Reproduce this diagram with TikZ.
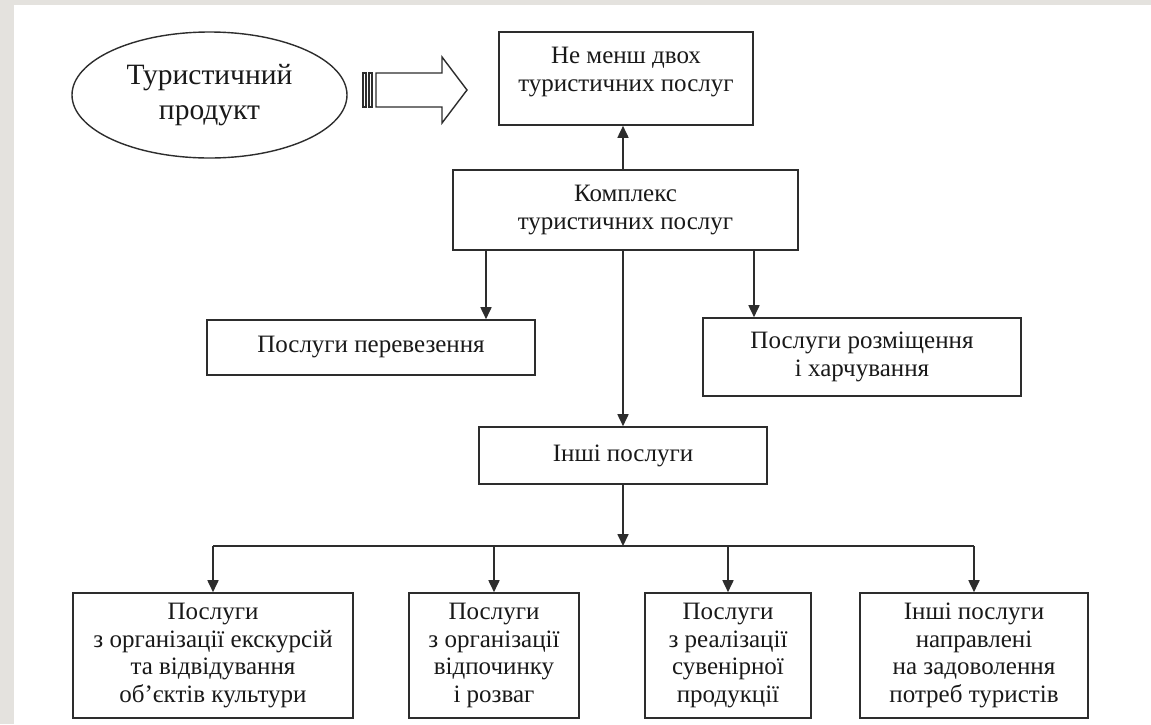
\documentclass[tikz,border=0pt]{standalone}
\usepackage{fontspec}
\setmainfont{Liberation Serif}
\usetikzlibrary{shapes.geometric,arrows.meta}
\definecolor{bggray}{RGB}{228,226,222}
\definecolor{ln}{RGB}{45,45,45}
\definecolor{tx}{RGB}{25,25,25}
\tikzset{
  box/.style={draw=ln, line width=1.6pt, fill=white, inner sep=0pt, align=center, text=tx,
              font=\fontsize{25}{27.5}\selectfont},
  arr/.style={draw=ln, line width=1.7pt, -{Triangle[width=11pt,length=12pt]}},
  ln/.style={draw=ln, line width=1.7pt},
}
\begin{document}
\begin{tikzpicture}[x=1pt,y=-1pt]
\useasboundingbox (0,0) rectangle (1151,724);
\fill[bggray] (0,0) rectangle (1151,724);
\fill[white] (14,5) rectangle (1151,724);

% ellipse
\node[ellipse, draw=ln, line width=1.4pt, minimum width=275pt, minimum height=126pt, inner sep=0pt,
      align=center, text=tx, font=\fontsize{29.5}{35}\selectfont] (ell) at (209.5,95) {Туристичний\\продукт};

% striped block arrow
\draw[ln, line width=1.4pt] (363,73) rectangle (366,107);
\draw[ln, line width=1.4pt] (369,73) rectangle (372,107);
\draw[ln, line width=1.4pt, line join=miter] (376,73) -- (442,73) -- (442,57) -- (467,90) -- (442,123) -- (442,107) -- (376,107) -- cycle;

% boxes
\node[box, minimum width=254pt, minimum height=93pt, text depth=18pt] (b1) at (626,78.5) {Не менш двох\\туристичних послуг};
\node[box, minimum width=345pt, minimum height=80pt] (kom) at (625.5,210) {Комплекс\\туристичних послуг};
\node[box, minimum width=328pt, minimum height=55pt] (per) at (371,347.5) {Послуги перевезення};
\node[box, minimum width=318pt, minimum height=78pt] (roz) at (862,357) {Послуги розміщення\\і харчування};
\node[box, minimum width=288pt, minimum height=57pt] (inshi) at (623,455.5) {Інші послуги};

\node[box, minimum width=280pt, minimum height=125pt] (A) at (213,655.5) {Послуги\\з організації екскурсій\\та відвідування\\об’єктів культури};
\node[box, minimum width=170pt, minimum height=125pt] (B) at (494,655.5) {Послуги\\з організації\\відпочинку\\і розваг};
\node[box, minimum width=166pt, minimum height=125pt] (C) at (728,655.5) {Послуги\\з реалізації\\сувенірної\\продукції};
\node[box, minimum width=228pt, minimum height=125pt] (D) at (974,655.5) {Інші послуги\\направлені\\на задоволення\\потреб туристів};

% helper coordinates
\coordinate (xup) at (623,0);
\coordinate (xper) at (486,0);
\coordinate (xroz) at (754,0);
\coordinate (bus) at (0,546);

% connectors
\draw[arr] (kom.north -| xup) -- (b1.south -| xup);
\draw[arr] (kom.south -| xper) -- (per.north -| xper);
\draw[arr] (kom.south -| xroz) -- (roz.north -| xroz);
\draw[arr] (kom.south -| inshi.north) -- (inshi.north);
\draw[arr] (inshi.south) -- (inshi.south |- bus);
\draw[ln] (A.north |- bus) -- (D.north |- bus);
\draw[arr] (A.north |- bus) -- (A.north);
\draw[arr] (B.north |- bus) -- (B.north);
\draw[arr] (C.north |- bus) -- (C.north);
\draw[arr] (D.north |- bus) -- (D.north);
\end{tikzpicture}
\end{document}
